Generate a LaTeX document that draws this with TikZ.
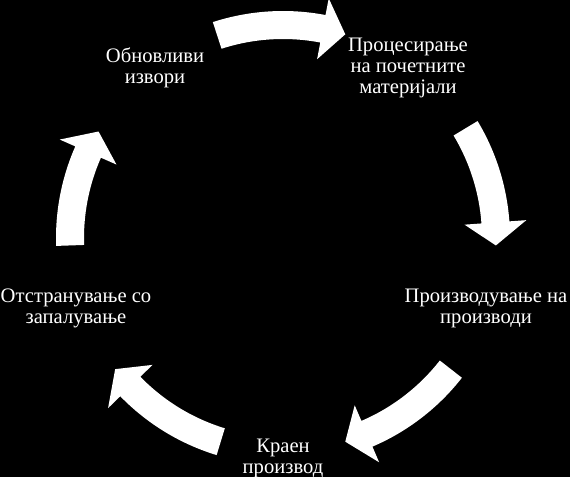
\documentclass[tikz,border=0pt]{standalone}
\usepackage{fontspec}
\setmainfont{Liberation Serif}
\tikzset{
  cycletext/.style={text=white,align=center,inner sep=0pt,
    font=\fontsize{20.6}{21}\selectfont},
  cyclearrow/.style={fill=white}
}
\begin{document}
\begin{tikzpicture}[x=1pt,y=-1pt]
  \fill[color=black] (0,0) rectangle (570,477);
  \useasboundingbox (0,0) rectangle (570,477);
  \coordinate (c) at (283,238);
  % five curved arrows, tail angle / tip angle
  \foreach \tail/\tip in {-108/-73,-31/2,38/73,107/142,178/210}{
    \pgfmathsetmacro\base{\tip-6.2}
    \fill[cyclearrow] ([shift={(c)}]\tail:227)
      arc[start angle=\tail,end angle=\base,radius=227]
      -- ([shift={(c)}]\base:244) -- ([shift={(c)}]\tip:213)
      -- ([shift={(c)}]\base:182) -- ([shift={(c)}]\base:199)
      arc[start angle=\base,end angle=\tail,radius=199] -- cycle;
  }
  \node[cycletext] (renew) at (155,68) {Обновливи\\извори};
  \node[cycletext] (process) at (408,68)
    {Процесирање\\на почетните\\материјали};
  \node[cycletext] (produce) at (486,308) {Производување на\\производи};
  \node[cycletext] (final) at (283,458.5) {Краен\\производ};
  \node[cycletext] (dispose) at (76,308) {Отстранување со\\запалување};
\end{tikzpicture}
\end{document}
